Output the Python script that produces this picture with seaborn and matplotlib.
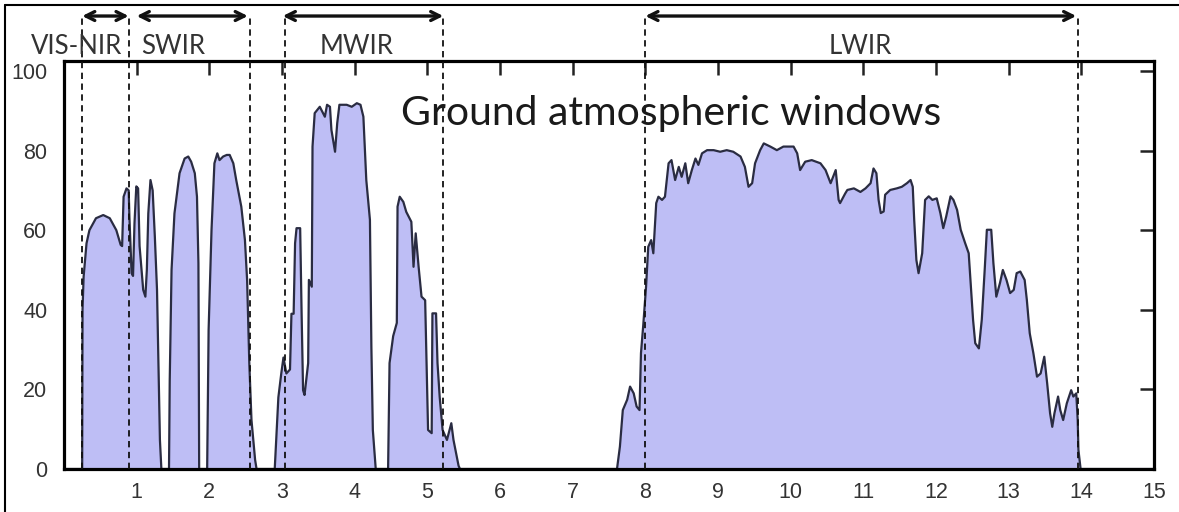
import matplotlib
matplotlib.use('Agg')
import matplotlib.pyplot as plt
import seaborn as sns
import pandas as pd
from matplotlib.lines import Line2D

# ---- data (wavelength in um, transmittance in %) ----
band_a_x = [0.25, 0.255, 0.27, 0.31, 0.35, 0.44, 0.54, 0.63, 0.72, 0.78, 0.80, 0.82, 0.86, 0.89,
            0.90, 0.93, 0.95, 0.97, 0.995, 1.02, 1.04, 1.09, 1.12, 1.14, 1.16, 1.19, 1.22, 1.25,
            1.28, 1.30, 1.32, 1.34]
band_a_y = [0, 40, 48.3, 56.7, 60, 63, 63.8, 63, 60, 56.3, 56, 68.4, 70.5, 70,
            63.4, 49.2, 48.5, 61.7, 71, 70.5, 56, 45, 43.3, 50, 64.2, 72.6, 70, 58.4,
            45, 26.6, 7.3, 0]

band_b_x = [1.445, 1.455, 1.48, 1.52, 1.59, 1.66, 1.71, 1.75, 1.80, 1.83, 1.85, 1.86]
band_b_y = [0, 22.2, 50, 64.2, 74.3, 78, 78.5, 77.2, 74.3, 68.4, 51.7, 0]

band_c_x = [1.97, 1.99, 2.03, 2.07, 2.11, 2.14, 2.19, 2.24, 2.28, 2.33, 2.37, 2.44, 2.49, 2.52,
            2.55, 2.58, 2.63, 2.65]
band_c_y = [0, 34.9, 60, 76.8, 79.3, 77.6, 78.5, 78.9, 78.9, 76.8, 72.6, 65.9, 57.5, 47.4,
            26.6, 12.3, 2.3, 0]

band_d_x = [2.90, 2.95, 2.99, 3.02, 3.06, 3.11, 3.13, 3.16, 3.18, 3.20, 3.25, 3.27, 3.29, 3.31,
            3.36, 3.37, 3.41, 3.42, 3.45, 3.52, 3.59, 3.62, 3.66, 3.68, 3.73, 3.76, 3.79, 3.89,
            3.96, 4.03, 4.08, 4.12, 4.16, 4.21, 4.23, 4.25, 4.29]
band_d_y = [0, 18, 24, 28, 24, 25, 39, 39, 56.7, 60.5, 60.5, 39, 19.8, 18.6,
            26.6, 47.5, 45.8, 81, 89.4, 91, 88.5, 91.5, 91, 85.2, 79.7, 86.9, 91.5, 91.5,
            91, 91.9, 91.5, 88.5, 72.6, 62.6, 30.7, 9.8, 0]

band_e_x = [4.46, 4.48, 4.53, 4.58, 4.59, 4.62, 4.67, 4.71, 4.78, 4.81, 4.84, 4.88, 4.92, 4.97,
            4.99, 5.01, 5.06, 5.07, 5.12, 5.14, 5.17, 5.21, 5.27, 5.33, 5.36, 5.43, 5.45]
band_e_y = [0, 26.6, 33.4, 36.7, 65.9, 68.4, 67.1, 64.6, 62.1, 50.8, 59.2, 50.8, 43.3, 42.4,
            26.6, 9.8, 9.0, 39.1, 39.1, 26.6, 18.1, 9.8, 7.3, 11.5, 7.3, 0.8, 0]

band_f_x = [7.61, 7.65, 7.69, 7.75, 7.79, 7.84, 7.88, 7.92, 7.94, 7.97, 8.01, 8.04, 8.08, 8.11,
            8.15, 8.18, 8.23, 8.27, 8.32, 8.36, 8.41, 8.46, 8.50, 8.55, 8.59, 8.64, 8.69, 8.73,
            8.78, 8.85, 8.94, 9.03, 9.12, 9.21, 9.31, 9.37, 9.42, 9.47, 9.51, 9.58, 9.63, 9.72,
            9.81, 9.90, 10.04, 10.09, 10.13, 10.20, 10.29, 10.41, 10.48, 10.55, 10.62, 10.66,
            10.68, 10.75, 10.78, 10.87, 10.96, 11.03, 11.10, 11.14, 11.18, 11.21, 11.24, 11.28,
            11.30, 11.37, 11.46, 11.53, 11.60, 11.65, 11.68, 11.70, 11.73, 11.76, 11.81, 11.85,
            11.90, 11.95, 12.01, 12.06, 12.10, 12.14, 12.20, 12.24, 12.29, 12.34, 12.40, 12.45,
            12.48, 12.51, 12.54, 12.59, 12.63, 12.67, 12.70, 12.76, 12.79, 12.83, 12.88, 12.92,
            12.97, 13.02, 13.07, 13.11, 13.16, 13.22, 13.25, 13.29, 13.34, 13.39, 13.44, 13.49,
            13.53, 13.57, 13.60, 13.63, 13.68, 13.71, 13.75, 13.80, 13.86, 13.89, 13.93, 13.95,
            13.96, 13.99]
band_f_y = [0, 5.6, 14.8, 17.4, 20.7, 19.0, 15.7, 14.8, 29.1, 35.8, 45.8, 55.8, 57.5, 54.2,
            66.8, 68.4, 67.6, 68.4, 76.8, 77.6, 72.6, 75.9, 73.4, 76.8, 71.8, 75.1, 78.0, 76.4,
            79.3, 80.1, 80.1, 79.7, 80.1, 79.7, 78.5, 75.9, 70.9, 71.8, 76.8, 80.1, 81.8, 81.0,
            80.1, 81.0, 81.0, 79.3, 75.1, 77.2, 77.6, 76.8, 75.1, 71.8, 75.1, 67.6,
            66.8, 69.2, 70.1, 70.5, 69.6, 70.5, 71.8, 75.5, 74.3, 67.6, 64.3, 64.7,
            68.9, 70.1, 70.5, 70.9, 71.8, 72.6, 70.9, 62.6, 52.5, 49.2, 54.2, 67.6,
            68.5, 67.6, 68.0, 64.3, 60.5, 63.4, 68.5, 67.6, 65.1, 60.1, 56.8, 54.2,
            45.8, 37.5, 31.6, 30.3, 37.5, 50.0, 60.1, 60.1, 51.7, 43.3, 46.7, 50.0,
            47.5, 44.2, 45.0, 49.2, 49.6, 47.5, 42.5, 34.1, 29.1, 23.2, 24.0, 28.2,
            21.5, 14.0, 10.6, 14.0, 18.2, 14.8, 12.3, 16.5, 19.8, 18.2, 19.0, 12.3,
            4.8, 0]

region_names = ['VIS-NIR', 'SWIR', 'MWIR', 'LWIR']
region_starts = [0.25, 1.0, 3.01, 8.0]
region_ends = [0.89, 2.53, 5.22, 13.93]
region_label_x = [0.17, 1.5, 4.03, 10.96]
boundaries = [0.25, 0.89, 2.56, 3.04, 5.22, 8.0, 13.95]

x_ticks = list(range(1, 16))
y_ticks = [0, 20, 40, 60, 80, 100]
title_text = 'Ground atmospheric windows'

# ---- assemble the spectrum ----
wl = [0.0]
tr = [0.0]
for bx, by in [(band_a_x, band_a_y), (band_b_x, band_b_y), (band_c_x, band_c_y),
               (band_d_x, band_d_y), (band_e_x, band_e_y), (band_f_x, band_f_y)]:
    wl += bx
    tr += by
wl.append(15.0)
tr.append(0.0)
df = pd.DataFrame({'wavelength': wl, 'transmittance': tr})

sns.set_style('white')
plt.rcParams['font.family'] = ['Liberation Sans', 'DejaVu Sans']

W, H = 1179, 512
fig = plt.figure(figsize=(W / 100, H / 100), dpi=100)
fig.patch.set_facecolor('white')
L, R, T, B = 64, 1154, 61, 469
ax = fig.add_axes([L / W, 1 - B / H, (R - L) / W, (B - T) / H])

ax.fill_between(df['wavelength'], 0, df['transmittance'], color='#BEBEF5', lw=0, zorder=1)
sns.lineplot(data=df, x='wavelength', y='transmittance', ax=ax, color='#2A2C42',
             lw=1.6, sort=False, estimator=None, zorder=2)

ax.set_xlim(0, 15)
ax.set_ylim(0, 102.5)
ax.set_xticks(x_ticks)
ax.set_yticks(y_ticks)
ax.set_xlabel('')
ax.set_ylabel('')
for s in ax.spines.values():
    s.set_linewidth(2.3)
    s.set_color('black')
    s.set_visible(True)
ax.tick_params(axis='both', direction='in', length=10, width=1.8, color='#222222',
               top=True, right=True, labelsize=15.5, labelcolor='#333333')
ax.tick_params(axis='x', pad=9)
ax.tick_params(axis='y', pad=12)

# dashed band boundaries
for b in boundaries:
    ax.plot([b, b], [0, 114], ls=(0, (3.5, 2.5)), color='#111111', lw=1.3,
            clip_on=False, zorder=3)

# band arrows and labels
for name, x0, x1, lx in zip(region_names, region_starts, region_ends, region_label_x):
    ax.annotate('', xy=(x1, 113.8), xytext=(x0, 113.8), xycoords='data',
                arrowprops=dict(arrowstyle='<->', lw=2.4, color='#111111',
                                mutation_scale=16, shrinkA=0, shrinkB=0),
                annotation_clip=False)
    ax.text(lx, 104.3, name, ha='center', va='baseline', fontsize=18.5,
            family=['Lato', 'DejaVu Sans'], color='#333333', clip_on=False)

ax.text(8.36, 86.3, title_text, ha='center', va='baseline', fontsize=29.5,
        family=['Lato', 'DejaVu Sans'], color='#1a1a1a')

# outer frame (left and top edges)
fig.add_artist(Line2D([5 / W, 5 / W], [0, 1 - 5 / H], transform=fig.transFigure,
                      color='black', lw=1.5))
fig.add_artist(Line2D([5 / W, 1], [1 - 5 / H, 1 - 5 / H], transform=fig.transFigure,
                      color='black', lw=1.5))

fig.savefig('out.png', dpi=100)
